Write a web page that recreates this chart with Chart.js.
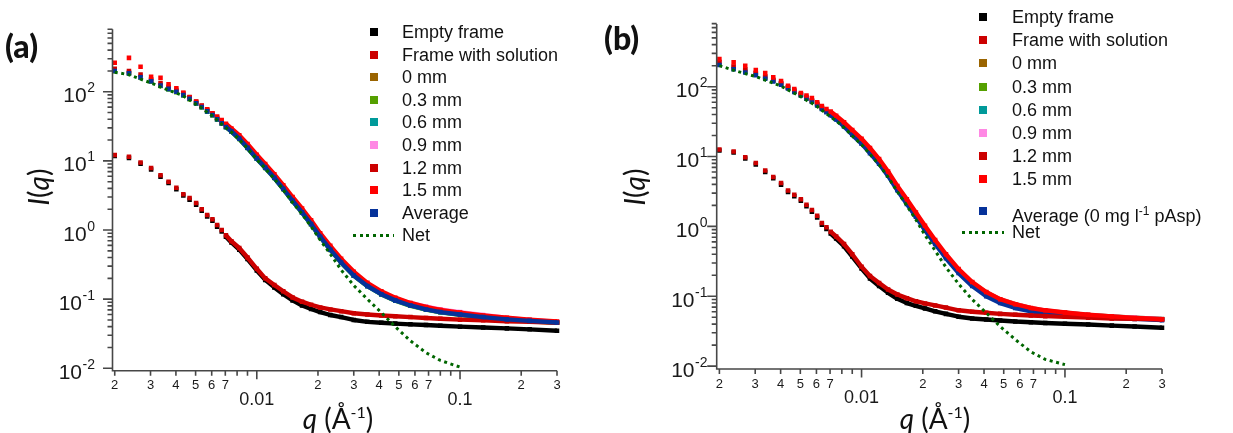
<!DOCTYPE html>
<html>
<head>
<meta charset="UTF-8" />
<title>SAXS frames</title>
<script src="https://cdn.jsdelivr.net/npm/chart.js"></script>
<style>
html, body { margin:0; padding:0; background:#fff; }
#wrap { position:relative; width:1233px; height:433px; overflow:hidden; font-family:"Liberation Sans", Arial, sans-serif; color:#111; }
canvas { position:absolute; top:0; }
.lbl { position:absolute; white-space:nowrap; }
.panel { font-family:Lato, sans-serif; font-weight:900; font-size:32px; line-height:32px; }
.ytitle { font-family:Lato, sans-serif; font-size:28px; line-height:28px; transform:translate(-50%,-50%) rotate(-90deg); }
.xtitle { font-family:Lato, sans-serif; font-size:28px; line-height:28px; transform:translate(-50%,-50%); }
.xtitle sup { font-size:16px; vertical-align:11px; }
.leg { position:absolute; font-size:18px; line-height:18px; white-space:nowrap; }
.leg sup { font-size:12px; vertical-align:7px; }
.mk { position:absolute; width:8px; height:8px; }
.dots { position:absolute; height:3px; }
</style>
</head>
<body>
<div id="wrap">
  <canvas id="ca" width="620" height="433" style="left:0"></canvas>
  <canvas id="cb" width="613" height="433" style="left:620px"></canvas>
</div>

<script>
// q grid (Å^-1), shared by every trace
const Q = [0.00200, 0.00235, 0.00268, 0.00302, 0.00336, 0.00368, 0.00402, 0.00435, 0.00467, 0.00503,
  0.00536, 0.00570, 0.00605, 0.00638, 0.00672, 0.00705, 0.00750, 0.00820, 0.00900, 0.0100,
  0.0110, 0.0122, 0.0135, 0.0150, 0.0167, 0.0185, 0.0205, 0.0230, 0.0260, 0.0300,
  0.0350, 0.0410, 0.0480, 0.0570, 0.0680, 0.0800, 0.100, 0.130, 0.170, 0.220, 0.300];

// panel (a)
const A_EMPTY = [11.8, 11.0, 9.1, 7.5, 5.9, 4.8, 3.9, 3.15, 2.75, 2.33, 1.9, 1.57, 1.36, 1.12, 0.95, 0.80, 0.66, 0.52, 0.38, 0.26, 0.19, 0.148, 0.118, 0.096, 0.081, 0.072, 0.065, 0.059, 0.055, 0.050, 0.047, 0.0455, 0.0443, 0.0432, 0.0422, 0.0413, 0.0400, 0.0390, 0.0378, 0.0366, 0.0350];
const A_FRAME = [12.2, 11.5, 9.5, 7.9, 6.2, 5.0, 4.1, 3.3, 2.9, 2.45, 2.0, 1.65, 1.43, 1.18, 1.0, 0.84, 0.69, 0.55, 0.40, 0.275, 0.20, 0.16, 0.13, 0.106, 0.092, 0.083, 0.076, 0.071, 0.067, 0.0625, 0.060, 0.058, 0.0565, 0.055, 0.0535, 0.052, 0.0505, 0.0495, 0.048, 0.047, 0.0455];
const A_MM0 = [203, 188, 164, 144, 125, 111, 101, 91, 80, 69, 61, 53, 46.5, 40.5, 35.5, 31.5, 27.2, 21.3, 15.7, 11.0, 8.1, 5.8, 4.0, 2.68, 1.82, 1.23, 0.81, 0.53, 0.345, 0.224, 0.158, 0.12, 0.098, 0.083, 0.073, 0.067, 0.0615, 0.056, 0.052, 0.049, 0.0465];
const A_MM03 = [198, 183, 160, 140, 121, 108, 98.5, 88.5, 78, 67, 59, 51.5, 45.5, 39.5, 34.5, 30.6, 26.5, 20.7, 15.3, 10.7, 7.9, 5.65, 3.9, 2.62, 1.78, 1.2, 0.79, 0.515, 0.337, 0.218, 0.154, 0.117, 0.095, 0.08, 0.0705, 0.0645, 0.0595, 0.0545, 0.0505, 0.048, 0.0455];
const A_MM06 = [201, 186, 163, 143, 124, 110, 100, 90, 79, 68, 60, 52, 46, 40, 35, 31, 26.8, 21, 15.5, 10.8, 8.0, 5.7, 3.95, 2.65, 1.8, 1.22, 0.8, 0.52, 0.34, 0.22, 0.155, 0.118, 0.096, 0.081, 0.071, 0.065, 0.06, 0.055, 0.051, 0.0485, 0.046];
const A_MM09 = [206, 190, 166, 146, 126, 112, 102, 92, 81, 70, 61.5, 53.5, 47, 41, 36, 32, 27.6, 21.6, 16, 11.2, 8.3, 5.9, 4.1, 2.75, 1.86, 1.26, 0.83, 0.545, 0.355, 0.232, 0.165, 0.126, 0.103, 0.088, 0.078, 0.071, 0.065, 0.059, 0.0535, 0.05, 0.047];
const A_MM12 = [215, 200, 178, 152, 134, 118, 106, 96, 84, 72, 63, 55, 48.5, 42, 37, 33, 28, 22, 16.3, 11.4, 8.4, 6.0, 4.15, 2.8, 1.9, 1.28, 0.84, 0.55, 0.36, 0.232, 0.163, 0.124, 0.101, 0.085, 0.074, 0.068, 0.062, 0.0565, 0.0525, 0.049, 0.0465];
const A_MM15 = [262, 309, 230, 164, 159, 128, 112, 97, 83, 71.5, 62, 56, 49, 44, 39, 34.5, 29.5, 23.5, 17.5, 12.3, 9.0, 6.4, 4.45, 3.0, 2.05, 1.38, 0.90, 0.59, 0.385, 0.25, 0.172, 0.13, 0.105, 0.088, 0.077, 0.070, 0.064, 0.058, 0.054, 0.0505, 0.0475];
const A_AVG = [200, 185, 162, 142, 123, 110, 100, 90, 79, 68, 60, 52, 46, 40, 35, 31, 26.8, 21, 15.5, 10.8, 8.0, 5.7, 3.95, 2.65, 1.8, 1.22, 0.80, 0.52, 0.34, 0.22, 0.155, 0.118, 0.096, 0.081, 0.071, 0.065, 0.060, 0.055, 0.051, 0.0485, 0.046];
const A_NET = [192, 176, 152, 134, 117, 105, 96, 87, 76, 65.5, 58, 50.4, 44.6, 38.8, 34, 30.2, 26.1, 20.4, 15.1, 10.5, 7.8, 5.5, 3.8, 2.5, 1.7, 1.12, 0.72, 0.45, 0.265, 0.158, 0.10, 0.064, 0.040, 0.025, 0.0168, 0.013, 0.0104];

// panel (b)
const B_EMPTY = [12.2, 11.4, 9.4, 7.7, 6.0, 4.9, 3.95, 3.1, 2.7, 2.33, 1.95, 1.62, 1.34, 1.06, 0.92, 0.79, 0.67, 0.52, 0.37, 0.25, 0.18, 0.14, 0.112, 0.092, 0.080, 0.073, 0.067, 0.061, 0.056, 0.051, 0.048, 0.0465, 0.045, 0.0435, 0.0425, 0.0415, 0.0405, 0.0395, 0.038, 0.037, 0.0355];
const B_FRAME = [12.6, 11.8, 9.8, 8.1, 6.3, 5.1, 4.17, 3.27, 2.85, 2.45, 2.05, 1.72, 1.42, 1.12, 0.97, 0.84, 0.72, 0.56, 0.40, 0.265, 0.195, 0.155, 0.125, 0.106, 0.094, 0.085, 0.079, 0.074, 0.069, 0.063, 0.060, 0.058, 0.056, 0.0545, 0.053, 0.052, 0.0508, 0.0495, 0.048, 0.0475, 0.047];
const B_MM0 = [222, 190, 173, 155, 138, 124, 111, 97, 87, 77, 70, 63, 56, 50, 44.5, 40.5, 35.5, 28.3, 21.8, 16.3, 11.9, 8.35, 5.65, 3.5, 2.25, 1.47, 0.95, 0.6, 0.375, 0.232, 0.153, 0.11, 0.088, 0.075, 0.066, 0.061, 0.057, 0.0535, 0.051, 0.049, 0.047];
const B_MM03 = [212, 184, 166, 150, 134, 122, 109, 96, 86, 76, 69, 62, 55, 49, 44, 40, 35, 28, 21.5, 16.1, 11.8, 8.3, 5.6, 3.45, 2.22, 1.45, 0.94, 0.6, 0.378, 0.235, 0.156, 0.113, 0.09, 0.077, 0.0675, 0.062, 0.058, 0.054, 0.0515, 0.0495, 0.0472];
const B_MM06 = [214, 186, 168, 152, 136, 123, 110, 97, 86, 77, 69, 62.5, 55.5, 49.5, 44.5, 40.5, 35.5, 28.3, 21.8, 16.2, 11.9, 8.4, 5.7, 3.5, 2.24, 1.45, 0.93, 0.59, 0.37, 0.228, 0.15, 0.108, 0.087, 0.074, 0.066, 0.061, 0.0572, 0.0535, 0.051, 0.049, 0.0468];
const B_MM09 = [226, 192, 174, 156, 139, 125, 112, 98, 88, 78, 70.5, 63.5, 56.5, 50.5, 45, 41, 36, 28.6, 22, 16.5, 12.1, 8.5, 5.75, 3.55, 2.28, 1.48, 0.95, 0.6, 0.376, 0.233, 0.155, 0.112, 0.09, 0.077, 0.0675, 0.0625, 0.058, 0.054, 0.0515, 0.0495, 0.0472];
const B_MM12 = [225, 195, 176, 158, 140, 126, 113, 99, 88, 78, 71, 64, 57, 50.5, 45, 41, 36, 28.5, 22, 16.4, 12, 8.4, 5.7, 3.5, 2.25, 1.46, 0.94, 0.59, 0.37, 0.228, 0.15, 0.107, 0.086, 0.073, 0.065, 0.06, 0.0565, 0.053, 0.0505, 0.0485, 0.0465];
const B_MM15 = [249, 223, 199, 173, 157, 136, 121, 103, 92.6, 81, 75, 69, 60, 53, 48, 44, 38.5, 31, 24, 18, 13.3, 9.2, 6.1, 3.8, 2.45, 1.58, 1.02, 0.64, 0.40, 0.245, 0.16, 0.115, 0.091, 0.077, 0.068, 0.063, 0.0585, 0.0545, 0.0515, 0.049, 0.047];
const B_AVG = [205, 178, 160, 146, 130, 119, 107, 94, 84, 75, 67, 61, 54, 48, 43, 39, 34, 27, 20.5, 15.3, 11.2, 7.9, 5.3, 3.3, 2.1, 1.38, 0.88, 0.56, 0.35, 0.215, 0.14, 0.1, 0.08, 0.068, 0.061, 0.057, 0.054, 0.051, 0.049, 0.0475, 0.0455];
const B_NET = [200, 172, 154, 140, 124, 113, 102, 90, 80.5, 72, 64, 58, 52, 46, 41, 37, 32.5, 26, 19.8, 14.8, 10.8, 7.6, 5.1, 3.15, 1.98, 1.25, 0.75, 0.45, 0.26, 0.15, 0.09, 0.058, 0.037, 0.024, 0.016, 0.0125, 0.0105];

const LABELS_A = ['Empty frame', 'Frame with solution', '0 mm', '0.3 mm', '0.6 mm', '0.9 mm', '1.2 mm', '1.5 mm', 'Average', 'Net'];
const LABELS_B = ['Empty frame', 'Frame with solution', '0 mm', '0.3 mm', '0.6 mm', '0.9 mm', '1.2 mm', '1.5 mm', 'Average (0 mg l^-1 pAsp)', 'Net'];

// axis ticks
const X_TICKS = [0.002, 0.003, 0.004, 0.005, 0.006, 0.007, 0.008, 0.009, 0.01, 0.02, 0.03, 0.04, 0.05, 0.06, 0.07, 0.08, 0.09, 0.1, 0.2, 0.3];
const X_TICK_LABELS = ['2', '3', '4', '5', '6', '7', '', '', '0.01', '2', '3', '4', '5', '6', '7', '', '', '0.1', '2', '3'];
const Y_MAJOR = [0.01, 0.1, 1, 10, 100];
const Y_EXP = ['-2', '-1', '0', '1', '2'];
const Y_MINOR = [0.02, 0.03, 0.04, 0.05, 0.06, 0.07, 0.08, 0.09, 0.2, 0.3, 0.4, 0.5, 0.6, 0.7, 0.8, 0.9,
  2, 3, 4, 5, 6, 7, 8, 9, 20, 30, 40, 50, 60, 70, 80, 90, 200, 300, 400, 500, 600, 700, 800];

// styles
const COLORS = ['#000000', '#cc0000', '#9a6400', '#55a000', '#009a9a', '#ff88e4', '#cc0000', '#ff0000', '#06329a', '#006600'];
// lower order is painted on top
const DRAW_ORDER_A = [3, 2, 9, 8, 7, 6, 5, 4, 1, 0];
const DRAW_ORDER_B = [3, 2, 9, 8, 7, 6, 5, 1, 4, 0];
const BAND_FROM = 0.007;
const AXIS_COLOR = '#474747';
const TEXT_COLOR = '#1a1a1a';

function makeDatasets(series, labels, drawOrder) {
  return series.map((vals, i) => {
    const color = COLORS[i];
    const pts = vals.map((v, k) => ({ x: Q[k], y: v }));
    if (i === 9) {
      return { label: labels[i], data: pts, showLine: true, pointRadius: 0, borderColor: color,
        borderWidth: 3, borderDash: [3, 3.6], borderCapStyle: 'butt', order: drawOrder[i], clip: 6 };
    }
    return {
      label: labels[i], data: pts, showLine: true, order: drawOrder[i], clip: 6,
      borderColor: color, borderWidth: 4.4, borderCapStyle: 'butt', borderJoinStyle: 'round',
      pointStyle: 'rect', pointRadius: 3.2, pointBorderWidth: 0, pointBackgroundColor: color,
      segment: { borderColor: c => c.p0.parsed.x >= BAND_FROM ? color : 'rgba(0,0,0,0)' }
    };
  });
}

const igorAxes = {
  id: 'igorAxes',
  afterDatasetsDraw(chart, args, o) {
    const { ctx, chartArea: a } = chart;
    const xs = chart.scales.x, ys = chart.scales.y;
    ctx.save();
    ctx.strokeStyle = AXIS_COLOR;
    ctx.lineWidth = 1.6;
    ctx.beginPath();
    ctx.moveTo(a.left, a.top); ctx.lineTo(a.left, a.bottom + 0.8);
    ctx.moveTo(a.left - 0.8, a.bottom); ctx.lineTo(a.right, a.bottom);
    Y_MINOR.forEach(v => {
      const py = ys.getPixelForValue(v);
      if (py < a.top - 0.5) return;
      ctx.moveTo(a.left, py); ctx.lineTo(a.left - 5, py);
    });
    Y_MAJOR.forEach(v => {
      const py = ys.getPixelForValue(v);
      ctx.moveTo(a.left, py); ctx.lineTo(a.left - 9.5, py);
    });
    X_TICKS.forEach((v, i) => {
      const px = xs.getPixelForValue(v);
      const major = X_TICK_LABELS[i].includes('.');
      ctx.moveTo(px, a.bottom); ctx.lineTo(px, a.bottom + (major ? 8.5 : 5));
    });
    ctx.stroke();

    ctx.fillStyle = TEXT_COLOR;
    Y_MAJOR.forEach((v, i) => {
      const py = ys.getPixelForValue(v);
      const right = a.left - o.yGap;
      ctx.font = '14px "Liberation Sans"';
      ctx.textAlign = 'left';
      ctx.textBaseline = 'alphabetic';
      const ew = ctx.measureText(Y_EXP[i]).width;
      ctx.fillText(Y_EXP[i], right - ew, py + 0.5);
      ctx.font = '21px "Liberation Sans"';
      ctx.textAlign = 'right';
      ctx.fillText('10', right - ew - 0.5, py + 10.5);
    });
    X_TICKS.forEach((v, i) => {
      const t = X_TICK_LABELS[i];
      if (!t) return;
      const px = xs.getPixelForValue(v);
      const major = t.includes('.');
      ctx.font = major ? '18px "Liberation Sans"' : '13px "Liberation Sans"';
      ctx.textAlign = 'center';
      ctx.textBaseline = 'middle';
      ctx.fillText(t, px, a.bottom + (major ? 29 : 15));
    });
    ctx.restore();
  }
};

function makeChart(id, series, labels, drawOrder, pad, xr, yr, yGap) {
  return new Chart(document.getElementById(id), {
    type: 'scatter',
    data: { datasets: makeDatasets(series, labels, drawOrder) },
    options: {
      responsive: false,
      animation: false,
      events: [],
      layout: { padding: pad },
      plugins: { legend: { display: false }, tooltip: { enabled: false }, igorAxes: { yGap } },
      scales: {
        x: { type: 'logarithmic', min: xr[0], max: xr[1], display: false },
        y: { type: 'logarithmic', min: yr[0], max: yr[1], display: false }
      }
    },
    plugins: [igorAxes]
  });
}

makeChart('ca', [A_EMPTY, A_FRAME, A_MM0, A_MM03, A_MM06, A_MM09, A_MM12, A_MM15, A_AVG, A_NET], LABELS_A, DRAW_ORDER_A,
  { left: 112.5, right: 63, top: 29.3, bottom: 62.3 }, [0.00195, 0.3], [0.00923, 800], 17.5);
makeChart('cb', [B_EMPTY, B_FRAME, B_MM0, B_MM03, B_MM06, B_MM09, B_MM12, B_MM15, B_AVG, B_NET], LABELS_B, DRAW_ORDER_B,
  { left: 96.7, right: 71, top: 24, bottom: 64 }, [0.00194, 0.3], [0.0091, 790], 9.2);

// text: panel tags, axis titles, legends
const wrap = document.getElementById('wrap');
function addText(cls, html, left, top) {
  const d = document.createElement('div');
  d.className = 'lbl ' + cls;
  d.innerHTML = html;
  d.style.left = left + 'px';
  d.style.top = top + 'px';
  wrap.appendChild(d);
}
addText('panel', '(a)', 5, 30);
addText('panel', '(b)', 604, 22);
addText('ytitle', '<i>I</i>(<i>q</i>)', 38, 187);
addText('ytitle', '<i>I</i>(<i>q</i>)', 634, 187);
addText('xtitle', '<i>q</i> (Å<sup>-1</sup>)', 338, 415);
addText('xtitle', '<i>q</i> (Å<sup>-1</sup>)', 935, 415);

function addLegend(labels, markX, textX, rows, netX0, netX1) {
  labels.forEach((name, i) => {
    const y = rows[i];
    if (i === 9) {
      const d = document.createElement('div');
      d.className = 'dots';
      d.style.left = netX0 + 'px';
      d.style.width = (netX1 - netX0) + 'px';
      d.style.top = (y - 1.5) + 'px';
      d.style.background = 'repeating-linear-gradient(90deg,' + COLORS[9] + ' 0 3px, transparent 3px 6.7px)';
      wrap.appendChild(d);
    } else {
      const m = document.createElement('div');
      m.className = 'mk';
      m.style.left = (markX - 4) + 'px';
      m.style.top = (y - 4) + 'px';
      m.style.background = COLORS[i];
      wrap.appendChild(m);
    }
    const t = document.createElement('div');
    t.className = 'leg';
    t.innerHTML = name.replace('^-1', '<sup>-1</sup>');
    t.style.left = textX + 'px';
    t.style.top = (y - 9) + 'px';
    wrap.appendChild(t);
  });
}
addLegend(LABELS_A, 374, 402, [32, 54.6, 77.2, 99.8, 122.4, 145, 167.6, 190.2, 212.8, 235.4], 353, 394);
addLegend(LABELS_B, 983, 1012, [16.7, 40.3, 63.3, 86.7, 109.5, 132.7, 155.5, 179, 210.7, 232.3], 962, 1004);
</script>
</body>
</html>
